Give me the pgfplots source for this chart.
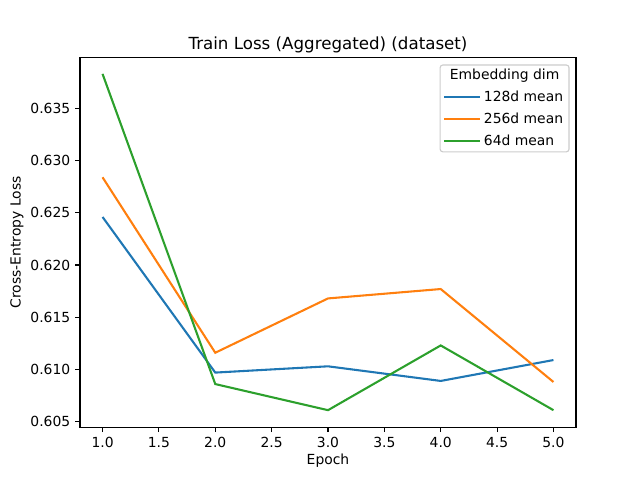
\documentclass[border=0pt]{standalone}
\usepackage{pgfplots}
\pgfplotsset{compat=1.18}
\usepackage{fontspec}
\setmainfont{DejaVu Sans}
\definecolor{tabblue}{HTML}{1F77B4}
\definecolor{taborange}{HTML}{FF7F0E}
\definecolor{tabgreen}{HTML}{2CA02C}
\begin{document}
\fontsize{10}{12}\selectfont
\begin{tikzpicture}
\useasboundingbox (-57.6pt,-38.016pt) rectangle (403.2pt,307.584pt);
\begin{axis}[
  at={(0,0)}, anchor=south west,
  scale only axis, width=357.12pt, height=266.112pt,
  xmin=0.8, xmax=5.2, ymin=0.60447, ymax=0.63986,
  xtick={1,1.5,2,2.5,3,3.5,4,4.5,5},
  ytick={0.605,0.610,0.615,0.620,0.625,0.630,0.635},
  xticklabel style={/pgf/number format/.cd, fixed, fixed zerofill, precision=1, assume math mode=true},
  yticklabel style={/pgf/number format/.cd, fixed, fixed zerofill, precision=3, assume math mode=true},
  scaled y ticks=false,
  tick align=outside, xtick pos=left, ytick pos=left,
  major tick length=3.5pt,
  every tick/.style={line width=0.8pt, black},
  axis line style={line width=0.8pt},
  tick label style={font=\fontsize{10}{12}\selectfont},
  title={Train Loss (Aggregated) (dataset)},
  title style={at={(axis description cs:0.5,1.0124)}, anchor=center, yshift=0pt, font=\fontsize{12}{14}\selectfont},
  xlabel={Epoch},
  xlabel style={at={(axis description cs:0.5,-0.0915)}, anchor=center},
  ylabel={Cross-Entropy Loss},
  ylabel style={at={(axis description cs:-0.127,0.5)}, anchor=center},
  legend style={at={(rel axis cs:0.983,0.922)}, anchor=north east, draw=none, fill=none,
    font=\fontsize{10}{12}\selectfont, row sep=2.6pt, inner sep=1pt},
  legend cell align=left,
  legend image code/.code={\draw[#1, line width=1.5pt] (0pt,0pt) -- (21.6pt,0pt); \path (21.6pt,0pt) -- (25.9pt,0pt);},
]
\draw[draw=black!20, fill=white, fill opacity=0.8, rounded corners=2pt, line width=0.8pt]
  (rel axis cs:0.726,0.745) rectangle (rel axis cs:0.986,0.980);
\node[anchor=center, font=\fontsize{10}{12}\selectfont] at (rel axis cs:0.856,0.950) {Embedding dim};
\addplot[tabblue, line width=1.5pt] coordinates {(1,0.6246) (2,0.6097) (3,0.6103) (4,0.6089) (5,0.6109)};
\addlegendentry{128d mean}
\addplot[taborange, line width=1.5pt] coordinates {(1,0.6284) (2,0.6116) (3,0.6168) (4,0.6177) (5,0.6088)};
\addlegendentry{256d mean}
\addplot[tabgreen, line width=1.5pt] coordinates {(1,0.6383) (2,0.6086) (3,0.6061) (4,0.6123) (5,0.6061)};
\addlegendentry{64d mean}
\end{axis}
\end{tikzpicture}
\end{document}
